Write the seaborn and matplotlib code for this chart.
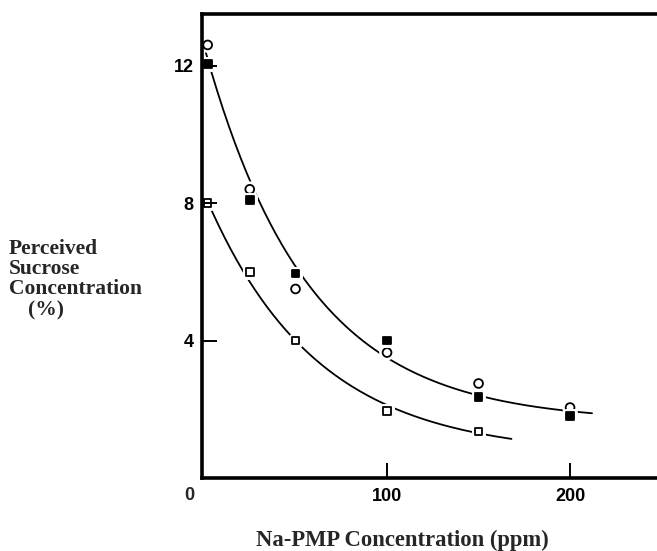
import numpy as np
import pandas as pd
import matplotlib
matplotlib.use("Agg")
import matplotlib.pyplot as plt
import matplotlib.patheffects as pe
import matplotlib.transforms as mtransforms
import seaborn as sns

# Na-PMP concentration (ppm) and perceived sucrose concentration (%)
conc = [2, 25, 50, 100, 150, 200]
open_circle = [12.6, 8.4, 5.5, 3.65, 2.75, 2.05]
filled_square = [12.05, 8.1, 5.95, 4.0, 2.35, 1.8]
conc_low = [2, 25, 50, 100, 150]
open_square = [8.0, 6.0, 4.0, 1.95, 1.35]

x_ticks = [100, 200]
y_ticks = [4, 8, 12]
upper_span = (1, 212)
lower_span = (3, 168)


def fit_decay(x, y):
    """Least-squares fit of y = a + b*exp(-k*x), scanning the asymptote a."""
    x = np.asarray(x, float)
    y = np.asarray(y, float)
    best = None
    for a in np.linspace(0, y.min() - 0.02, 400):
        slope, inter = np.polyfit(x, np.log(y - a), 1)
        pred = a + np.exp(inter + slope * x)
        sse = np.sum((pred - y) ** 2)
        if best is None or sse < best[0]:
            best = (sse, a, np.exp(inter), -slope)
    return best[1:]


sns.set_style("ticks")
plt.rcParams["font.family"] = ["Liberation Sans", "DejaVu Sans"]

fig = plt.figure(figsize=(6.57, 5.51), dpi=100)
ax = fig.add_axes([202 / 657, 73 / 551, 455 / 657, 464 / 551])
ax.set_axisbelow(False)

# fitted curves
a1, b1, k1 = fit_decay(conc + conc, open_circle + filled_square)
xu = np.linspace(*upper_span, 200)
a2, b2, k2 = fit_decay(conc_low, open_square)
xl = np.linspace(*lower_span, 200)
curves = pd.concat([
    pd.DataFrame({"x": xu, "y": a1 + b1 * np.exp(-k1 * xu), "c": "upper"}),
    pd.DataFrame({"x": xl, "y": a2 + b2 * np.exp(-k2 * xl), "c": "lower"}),
])
sns.lineplot(data=curves, x="x", y="y", units="c", estimator=None,
             color="black", lw=1.3, ax=ax, legend=False, sort=False, zorder=1.5)

halo = [pe.withStroke(linewidth=5, foreground="white")]
pts = [
    (conc, open_circle, "o", "white", 40),
    (conc, filled_square, "s", "black", 32),
    (conc_low, open_square, "s", "white", 30),
]
for xs, ys, mk, fc, s in pts:
    sns.scatterplot(x=xs, y=ys, marker=mk, s=s, facecolor=fc,
                    edgecolor="black", linewidth=1.3, ax=ax, zorder=2.2)
for coll in ax.collections:
    coll.set_path_effects(halo)
    coll.set_clip_on(False)

ax.set_xlim(-1.1, 247.5)
ax.set_ylim(0, 13.5)
ax.set_xticks(x_ticks)
ax.set_yticks(y_ticks)
ax.set_xticklabels([str(v) for v in x_ticks], fontweight="bold", fontsize=13)
ax.set_yticklabels([str(v) for v in y_ticks], fontweight="bold", fontsize=13)
ax.tick_params(axis="both", direction="in", length=11, width=1.4, colors="black")
ax.tick_params(axis="x", pad=7)
ax.tick_params(axis="y", pad=6)
ax.set_xlabel("")
ax.set_ylabel("")
for side in ["left", "bottom", "top"]:
    ax.spines[side].set_linewidth(2.6)
    ax.spines[side].set_color("black")
    ax.spines[side].set_zorder(3)
ax.spines["right"].set_visible(False)

# origin label at the lower-left corner
ax.text(0, 0, "0", fontweight="bold", fontsize=13, ha="center", va="top",
        clip_on=False,
        transform=mtransforms.offset_copy(ax.transData, fig=fig, x=-15, y=-9,
                                          units="dots"))

fig.text(402 / 657, 1 - 540 / 551, "Na-PMP Concentration (ppm)",
         family="Liberation Serif", fontweight="bold", fontsize=16.3,
         ha="center", va="center")
fig.text(9 / 657, 1 - 239 / 551, "Perceived\nSucrose\nConcentration",
         family="Liberation Serif", fontweight="bold", fontsize=15.5,
         ha="left", va="top", linespacing=1.0)
fig.text(28 / 657, 1 - 300 / 551, "(%)",
         family="Liberation Serif", fontweight="bold", fontsize=15.5,
         ha="left", va="top")

fig.savefig("out.png", dpi=100, facecolor="white")
